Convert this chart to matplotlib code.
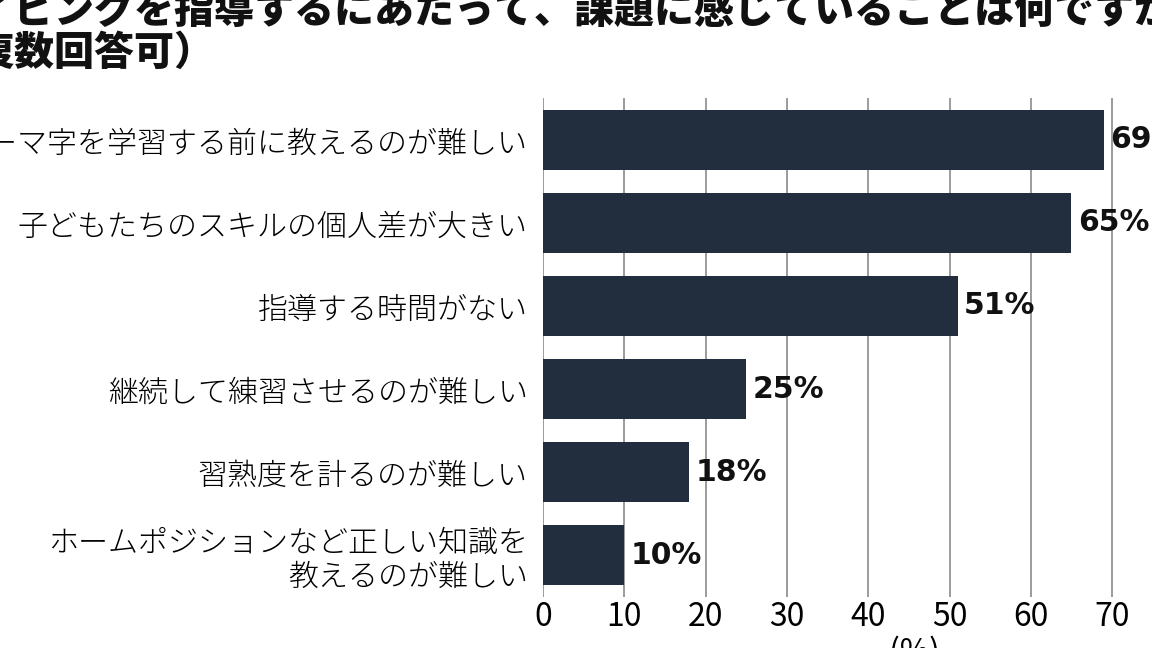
import matplotlib
matplotlib.use("Agg")
import matplotlib.pyplot as plt

plt.rcParams['font.family'] = ['Noto Sans CJK JP', 'DejaVu Sans']

# data
categories = [
    "ローマ字を学習する前に教えるのが難しい",
    "子どもたちのスキルの個人差が大きい",
    "指導する時間がない",
    "継続して練習させるのが難しい",
    "習熟度を計るのが難しい",
    "ホームポジションなど正しい知識を\n教えるのが難しい",
]
values = [69, 65, 51, 25, 18, 10]
xticks = [0, 10, 20, 30, 40, 50, 60, 70, 80]
title_line1 = "タイピングを指導するにあたって、課題に感じていることは何ですか"
title_line2 = "（複数回答可）"

W, H = 1152, 648
fig = plt.figure(figsize=(W / 100, H / 100), dpi=100)
fig.patch.set_facecolor("white")

# axes placed in pixel terms: x=0 at 543px, 10 units = 81.3px
ax = fig.add_axes([543 / W, (H - 597) / H, 650.4 / W, 499 / H])
ypos = list(range(len(values)))
ax.barh(ypos, values, height=0.72, color="#222d3d", zorder=3)
ax.set_xlim(0, 80)
ax.set_ylim(5.506, -0.506)

ax.set_xticks(xticks)
ax.set_xticklabels([str(t) for t in xticks], fontsize=23)
ax.tick_params(axis="x", length=0, pad=3)
ax.set_yticks(ypos)
ax.set_yticklabels(categories, fontsize=21.6, linespacing=1.1)
ax.tick_params(axis="y", length=0, pad=11)
for lbl in ax.get_yticklabels():
    lbl.set_fontweight("light")

ax.grid(axis="x", color="#8a8a8a", linewidth=1.2, zorder=0)
for s in ax.spines.values():
    s.set_visible(False)

for y, v in zip(ypos, values):
    ax.text(v + 0.8, y, f"{v}%", va="center", ha="left",
            family="DejaVu Sans", fontweight="bold", fontsize=21.5,
            color="#111111", zorder=4)

fig.text(915 / W, 1 - 636 / H, "(%)", ha="center", va="top", fontsize=23)

fig.text(-66 / W, 1 - 11 / H, title_line1, ha="left", va="center",
         fontsize=28.8, fontweight="black", color="#111111")
fig.text(-66 / W, 1 - 53 / H, title_line2, ha="left", va="center",
         fontsize=28.8, fontweight="black", color="#111111")

fig.savefig("out.png", dpi=100)
